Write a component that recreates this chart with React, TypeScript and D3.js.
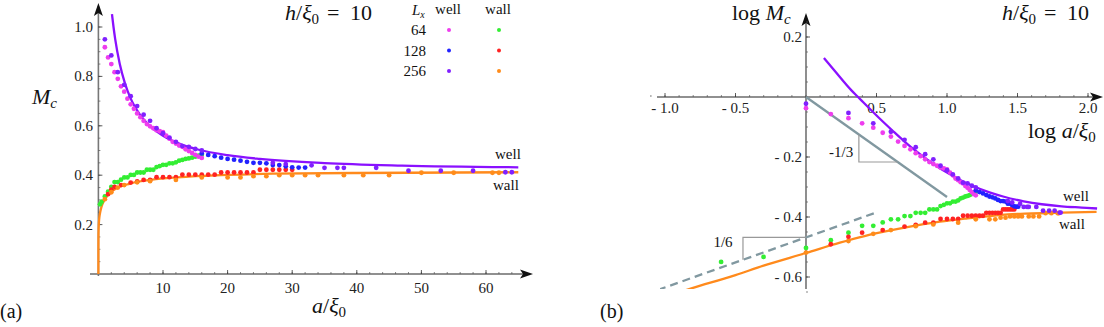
import React from "react";
import * as d3 from "d3";

// a/xi0 and M_c for each system size, "well" and "wall" configurations
const well64A = [1, 1.5, 2, 2.5, 3, 3.5, 4, 4.5, 5, 5.5, 6, 6.5, 7, 7.5, 8, 8.5, 9, 9.5, 10, 10.5, 11, 11.5, 12, 12.5, 13, 13.5, 14, 14.5, 15, 15.5, 16];
const well64M = [0.918, 0.877, 0.85, 0.817, 0.79, 0.76, 0.738, 0.71, 0.687, 0.669, 0.65, 0.635, 0.62, 0.607, 0.598, 0.59, 0.582, 0.578, 0.574, 0.56, 0.548, 0.535, 0.528, 0.52, 0.515, 0.505, 0.498, 0.49, 0.482, 0.475, 0.47];

const wall64A = [0.25, 0.5, 1, 1.5, 2, 2.5, 3, 3.5, 4, 4.5, 5, 5.5, 6, 6.5, 7, 7.5, 8, 8.5, 9, 9.5, 10, 10.5, 11, 11.5, 12, 12.5, 13, 13.5, 14, 14.5, 15, 15.5, 16];
const wall64M = [0.282, 0.293, 0.314, 0.333, 0.353, 0.372, 0.372, 0.382, 0.391, 0.391, 0.401, 0.401, 0.411, 0.411, 0.411, 0.422, 0.422, 0.422, 0.433, 0.437, 0.442, 0.442, 0.448, 0.448, 0.452, 0.459, 0.462, 0.466, 0.468, 0.471, 0.475, 0.479, 0.483];

const well128A = [16, 17, 18, 19, 20, 21, 22, 23, 24, 25, 26, 27, 28, 29, 30, 31, 32];
const well128M = [0.488, 0.482, 0.477, 0.471, 0.466, 0.463, 0.459, 0.454, 0.45, 0.45, 0.448, 0.441, 0.441, 0.436, 0.432, 0.431, 0.431];

const wall128A = [1.5, 2, 2.5, 3.5, 5, 6, 7, 8, 9, 10, 11, 12, 13, 14, 15, 16, 17, 18, 19, 20, 21, 22, 23, 24, 25, 26, 27, 28, 29, 30];
const wall128M = [0.323, 0.342, 0.353, 0.36, 0.37, 0.375, 0.381, 0.381, 0.392, 0.392, 0.392, 0.392, 0.402, 0.402, 0.402, 0.402, 0.402, 0.402, 0.411, 0.411, 0.411, 0.411, 0.411, 0.411, 0.422, 0.422, 0.422, 0.422, 0.422, 0.422];

const well256A = [1, 2, 3, 4, 5, 6, 7, 8, 9, 10, 11, 12, 13, 14, 15, 16, 27, 29, 33, 35, 37, 38, 43, 48, 53, 58, 63, 64];
const well256M = [0.95, 0.885, 0.817, 0.766, 0.72, 0.68, 0.645, 0.62, 0.59, 0.57, 0.552, 0.535, 0.518, 0.515, 0.506, 0.5, 0.45, 0.445, 0.44, 0.43, 0.43, 0.43, 0.43, 0.418, 0.418, 0.418, 0.412, 0.412];

const wall256A = [1, 2, 3, 4, 6, 8, 12, 16, 20, 22, 24, 26, 28, 30, 32, 34, 38, 41, 45, 50, 55, 61, 62];
const wall256M = [0.303, 0.331, 0.35, 0.36, 0.371, 0.376, 0.381, 0.391, 0.391, 0.391, 0.396, 0.396, 0.4, 0.4, 0.4, 0.4, 0.4, 0.4, 0.4, 0.41, 0.41, 0.41, 0.41];

// fitted curves
const wellFitA = [1.34, 1.58, 2.1, 2.34, 2.6, 3.3, 4.1, 4.9, 6.4, 8, 10, 12.6, 15.4, 20, 25, 35, 47, 65, 90, 116];
const wellFitM = [1.349, 1.23, 1.052, 1.0, 0.951, 0.851, 0.773, 0.716, 0.646, 0.598, 0.56, 0.527, 0.504, 0.481, 0.466, 0.449, 0.439, 0.432, 0.428, 0.425];
const wallFitA = [0, 0.001, 0.01, 0.03, 0.1, 0.158, 0.316, 0.5, 1, 1.74, 2.6, 4.9, 8.9, 14, 20, 27, 40, 65, 115];
const wallFitM = [0, 0.11, 0.155, 0.18, 0.216, 0.231, 0.255, 0.274, 0.302, 0.327, 0.344, 0.366, 0.384, 0.394, 0.401, 0.406, 0.409, 0.412, 0.414];

// slope guides in the log-log panel
const thirdSlope = -1 / 3;
const thirdRange = [0, 1];
const thirdTriangle = [0.375, 0.65];
const sixthSlope = 1 / 6;
const sixthIntercept = -0.468;
const sixthRange = [-1.05, 0.5];
const sixthTriangle = [-0.447, 0];

const sizes = ["64", "128", "256"];
const series = [
  { key: "wall64", a: wall64A, m: wall64M, color: "#33ee33", row: 0, col: 1 },
  { key: "wall128", a: wall128A, m: wall128M, color: "#ff2222", row: 1, col: 1 },
  { key: "wall256", a: wall256A, m: wall256M, color: "#ff8c1a", row: 2, col: 1 },
  { key: "well64", a: well64A, m: well64M, color: "#ee3dee", row: 0, col: 0 },
  { key: "well128", a: well128A, m: well128M, color: "#2222ff", row: 1, col: 0 },
  { key: "well256", a: well256A, m: well256M, color: "#8020ff", row: 2, col: 0 },
];

const font = '"Liberation Serif", "DejaVu Serif", serif';
const purple = "#8a10ff";
const orange = "#ff8a1c";
const guide = "#8198a0";

const zip = (a: number[], m: number[]) => a.map((v, i) => [v, m[i]] as [number, number]);

const Arrow = ({ x, y, angle }: { x: number; y: number; angle: number }) => (
  <path d="M0,0 L-13,-4.5 L-10,0 L-13,4.5 Z" fill="#111" transform={`translate(${x},${y}) rotate(${angle})`} />
);

// "h/xi0 = 10" annotation, spaced like the original typesetting
const HeightNote = ({ x }: { x: number }) => (
  <g fill="#111">
    <text x={x} y={20} fontSize={22}>
      <tspan fontStyle="italic">h</tspan>/<tspan fontStyle="italic">ξ</tspan>
      <tspan fontSize={15} dy={4}>0</tspan>
    </text>
    <text x={x + 42} y={20} fontSize={22}>=</text>
    <text x={x + 65} y={20} fontSize={22}>10</text>
  </g>
);

const fmtR = (v: number) => (Math.abs(v) < 1e-9 ? "0" : v < 0 ? `- ${Math.abs(v).toFixed(1)}` : v.toFixed(1));

const App = () => {
  // panel (a)
  const xL = d3.scaleLinear().domain([0, 60]).range([98.4, 486]);
  const yL = d3.scaleLinear().domain([0, 1]).range([274, 27]);
  const lineL = d3.line<[number, number]>().x((d) => xL(d[0])).y((d) => yL(d[1])).curve(d3.curveMonotoneX);

  // panel (b)
  const xR = d3.scaleLinear().domain([-1, 2]).range([665, 1088]);
  const yR = d3.scaleLinear().domain([-0.6, 0.2]).range([277, 37]);
  const lineR = d3.line<[number, number]>().x((d) => xR(d[0])).y((d) => yR(d[1])).curve(d3.curveMonotoneX);
  const toLog = (pts: [number, number][]) =>
    pts.filter((p) => p[0] >= 0.1).map((p) => [Math.log10(p[0]), Math.log10(p[1])] as [number, number]);

  const wellFit = zip(wellFitA, wellFitM);
  const wallFit = zip(wallFitA, wallFitM);

  const xTicksL = xL.ticks(6).filter((t) => t > 0);
  const xMinorL = d3.range(0, 65, 2);
  const yTicksL = yL.ticks(5).filter((t) => t > 0);
  const yMinorL = d3.range(0.05, 1.05, 0.05);

  const xTicksR = d3.range(-1, 2.01, 0.5).filter((t) => Math.abs(t) > 1e-9);
  const xMinorR = d3.range(-1.1, 2.05, 0.1);
  const yTicksR = [0.2, -0.2, -0.4, -0.6];
  const yMinorR = d3.range(-0.65, 0.26, 0.05);

  const thirdPts = thirdRange.map((u) => [u, thirdSlope * u] as [number, number]);
  const sixthPts = sixthRange.map((u) => [u, sixthIntercept + sixthSlope * u] as [number, number]);
  const tri3 = [
    [thirdTriangle[0], thirdSlope * thirdTriangle[0]],
    [thirdTriangle[0], thirdSlope * thirdTriangle[1]],
    [thirdTriangle[1], thirdSlope * thirdTriangle[1]],
  ];
  const tri6 = [
    [sixthTriangle[1], sixthIntercept + sixthSlope * sixthTriangle[1]],
    [sixthTriangle[0], sixthIntercept + sixthSlope * sixthTriangle[1]],
    [sixthTriangle[0], sixthIntercept + sixthSlope * sixthTriangle[0]],
  ];
  const polyR = (pts: number[][]) => pts.map((p) => `${xR(p[0])},${yR(p[1])}`).join(" ");

  return (
    <svg width={1104} height={327} style={{ position: "absolute", left: 0, top: 0, background: "#fff", fontFamily: font }}>
      <style>{`text { font-family: ${font}; }`}</style>
      <defs>
        <clipPath id="clipL">
          <rect x={96} y={13} width={428} height={263} />
        </clipPath>
        <clipPath id="clipR">
          <rect x={660} y={0} width={440} height={289} />
        </clipPath>
      </defs>

      {/* ---------- panel (a) ---------- */}
      <g>
        <line x1={90} x2={530} y1={yL(0)} y2={yL(0)} stroke="#222" strokeWidth={1.2} />
        <Arrow x={533} y={yL(0)} angle={0} />
        <line x1={xL(0)} x2={xL(0)} y1={276} y2={6} stroke="#777" strokeWidth={1.6} />
        <Arrow x={xL(0)} y={3} angle={-90} />
        {xMinorL.map((t) => (
          <line key={"xm" + t} x1={xL(t)} x2={xL(t)} y1={yL(0)} y2={yL(0) - 2} stroke="#555" strokeWidth={0.7} />
        ))}
        {xTicksL.map((t) => (
          <g key={"xt" + t}>
            <line x1={xL(t)} x2={xL(t)} y1={yL(0)} y2={yL(0) - 4} stroke="#333" strokeWidth={0.8} />
            <text x={xL(t)} y={293} fontSize={15} textAnchor="middle" fill="#222">{t}</text>
          </g>
        ))}
        {yMinorL.map((t) => (
          <line key={"ym" + t} x1={xL(0)} x2={xL(0) + 2} y1={yL(t)} y2={yL(t)} stroke="#555" strokeWidth={0.7} />
        ))}
        {yTicksL.map((t) => (
          <g key={"yt" + t}>
            <line x1={xL(0)} x2={xL(0) + 4} y1={yL(t)} y2={yL(t)} stroke="#333" strokeWidth={0.8} />
            <text x={93} y={yL(t) + 5} fontSize={15} textAnchor="end" fill="#222">{t.toFixed(1)}</text>
          </g>
        ))}

        <g clipPath="url(#clipL)">
          <path d={lineL(wallFit.filter((p) => p[0] <= 65)) || ""} fill="none" stroke={orange} strokeWidth={2.3} />
          <path d={lineL(wellFit.filter((p) => p[0] >= 2 && p[0] <= 65)) || ""} fill="none" stroke={purple} strokeWidth={2.3} />
          {series.map((s) => (
            <g key={s.key} fill={s.color}>
              {zip(s.a, s.m).map((p, i) => (
                <circle key={i} cx={xL(p[0])} cy={yL(p[1])} r={2.4} />
              ))}
            </g>
          ))}
        </g>

        <text x={32} y={104} fontSize={22} fontStyle="italic" fill="#111">
          M<tspan fontSize={15} dy={4}>c</tspan>
        </text>
        <text x={312} y={313} fontSize={22} fill="#111">
          <tspan fontStyle="italic">a</tspan>/<tspan fontStyle="italic">ξ</tspan>
          <tspan fontSize={15} dy={4}>0</tspan>
        </text>
        <text x={0} y={318} fontSize={20} fill="#111">(a)</text>
        <HeightNote x={285} />

        {/* legend */}
        <text x={412} y={15} fontSize={15} fontStyle="italic" fill="#111">
          L<tspan fontSize={10} dy={3}>x</tspan>
        </text>
        <text x={448} y={14} fontSize={15} textAnchor="middle" fill="#111">well</text>
        <text x={498} y={14} fontSize={15} textAnchor="middle" fill="#111">wall</text>
        {sizes.map((s, i) => (
          <text key={s} x={426} y={35 + i * 20.5} fontSize={15} textAnchor="end" fill="#111">{s}</text>
        ))}
        {series.map((s) => (
          <circle key={"lg" + s.key} cx={s.col === 0 ? 449 : 499} cy={30 + s.row * 20.5} r={2} fill={s.color} />
        ))}

        <text x={495} y={159} fontSize={15} fill="#111">well</text>
        <text x={493} y={190} fontSize={15} fill="#111">wall</text>
      </g>

      {/* ---------- panel (b) ---------- */}
      <g>
        <line x1={657} x2={1100} y1={yR(0)} y2={yR(0)} stroke="#222" strokeWidth={1.2} />
        <Arrow x={1103} y={yR(0)} angle={0} />
        <line x1={xR(0)} x2={xR(0)} y1={289} y2={16} stroke="#444" strokeWidth={1.2} />
        <Arrow x={xR(0)} y={13} angle={-90} />
        {xMinorR.map((t, i) => (
          <line key={"xmr" + i} x1={xR(t)} x2={xR(t)} y1={yR(0)} y2={yR(0) - 2} stroke="#555" strokeWidth={0.7} />
        ))}
        {xTicksR.map((t) => (
          <g key={"xtr" + t}>
            <line x1={xR(t)} x2={xR(t)} y1={yR(0)} y2={yR(0) - 4} stroke="#333" strokeWidth={0.8} />
            <text x={xR(t)} y={113} fontSize={15} textAnchor="middle" fill="#222">{fmtR(t)}</text>
          </g>
        ))}
        {yMinorR.map((t, i) => (
          <line key={"ymr" + i} x1={xR(0)} x2={xR(0) + 2} y1={yR(t)} y2={yR(t)} stroke="#555" strokeWidth={0.7} />
        ))}
        {yTicksR.map((t) => (
          <g key={"ytr" + t}>
            <line x1={xR(0)} x2={xR(0) + 4} y1={yR(t)} y2={yR(t)} stroke="#333" strokeWidth={0.8} />
            <text x={802} y={yR(t) + 5} fontSize={15} textAnchor="end" fill="#222">{fmtR(t)}</text>
          </g>
        ))}

        <g clipPath="url(#clipR)">
          <line x1={xR(thirdPts[0][0])} y1={yR(thirdPts[0][1])} x2={xR(thirdPts[1][0])} y2={yR(thirdPts[1][1])} stroke={guide} strokeWidth={2.3} />
          <line x1={xR(sixthPts[0][0])} y1={yR(sixthPts[0][1])} x2={xR(sixthPts[1][0])} y2={yR(sixthPts[1][1])} stroke={guide} strokeWidth={2.3} strokeDasharray="8,5" />
          <polyline points={polyR(tri3)} fill="none" stroke="#999" strokeWidth={1.2} />
          <polyline points={polyR(tri6)} fill="none" stroke="#999" strokeWidth={1.2} />
          <path d={lineR(toLog(wallFit)) || ""} fill="none" stroke={orange} strokeWidth={2.3} />
          <path d={lineR(toLog(wellFit)) || ""} fill="none" stroke={purple} strokeWidth={2.3} />
          {series.map((s) => (
            <g key={"r" + s.key} fill={s.color}>
              {toLog(zip(s.a, s.m)).map((p, i) => (
                <circle key={i} cx={xR(p[0])} cy={yR(p[1])} r={2.4} />
              ))}
            </g>
          ))}
        </g>

        <text x={829} y={157} fontSize={15} fill="#111">-1/3</text>
        <text x={723} y={247} fontSize={15} textAnchor="middle" fill="#111">1/6</text>

        <text x={732} y={20} fontSize={22} fill="#111">
          log <tspan fontStyle="italic">M</tspan>
          <tspan fontSize={15} dy={4} fontStyle="italic">c</tspan>
        </text>
        <text x={1028} y={138} fontSize={22} fill="#111">
          log <tspan fontStyle="italic">a</tspan>/<tspan fontStyle="italic">ξ</tspan>
          <tspan fontSize={15} dy={4}>0</tspan>
        </text>
        <HeightNote x={1002} />
        <text x={600} y={318} fontSize={20} fill="#111">(b)</text>
        <text x={1063} y={201} fontSize={15} fill="#111">well</text>
        <text x={1059} y={229} fontSize={15} fill="#111">wall</text>
      </g>
    </svg>
  );
};

export default App;
